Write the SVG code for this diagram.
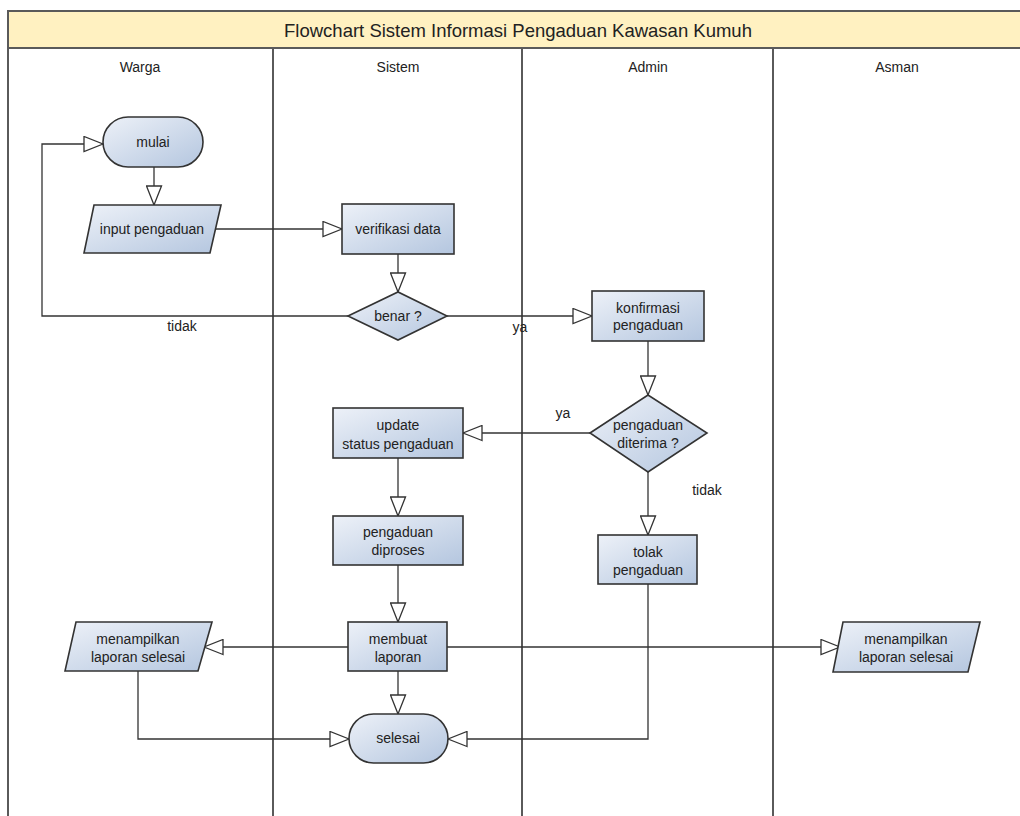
<svg xmlns="http://www.w3.org/2000/svg" width="1020" height="816" viewBox="0 0 1020 816">
  <defs>
    <linearGradient id="nodeFill" x1="0" y1="0" x2="1" y2="1">
      <stop offset="0" stop-color="#edf1f8"/>
      <stop offset="1" stop-color="#b4c6df"/>
    </linearGradient>
    <marker id="arrow" viewBox="0 0 21 17" refX="20" refY="8.5" markerWidth="21" markerHeight="17" markerUnits="userSpaceOnUse" orient="auto">
      <path d="M1,1 L20,8.5 L1,16 Z" fill="#ffffff" stroke="#333333" stroke-width="1.3"/>
    </marker>
  </defs>
  <style>
    .lane { fill: none; stroke: #5a5a5a; stroke-width: 2; }
    .node { fill: url(#nodeFill); stroke: #333333; stroke-width: 1.6; }
    .edge { fill: none; stroke: #333333; stroke-width: 1.3; marker-end: url(#arrow); }
    .plain { fill: none; stroke: #333333; stroke-width: 1.3; }
    text { font-family: "Liberation Sans", Arial, sans-serif; font-size: 14px; fill: #222222; text-anchor: middle; dominant-baseline: central; }
    .title { font-size: 18.5px; }
    .label { text-anchor: start; }
  </style>

  <rect width="1020" height="816" fill="#ffffff"/>

  <!-- pool with title band and four lanes -->
  <g id="pool">
    <rect x="8" y="11" width="1030" height="37" fill="#fff1c1"/>
    <rect x="8" y="11" width="1030" height="830" class="lane"/>
    <line x1="8" y1="48" x2="1020" y2="48" class="lane"/>
    <line x1="273" y1="48" x2="273" y2="816" class="lane"/>
    <line x1="522" y1="48" x2="522" y2="816" class="lane"/>
    <line x1="773" y1="48" x2="773" y2="816" class="lane"/>
    <text x="518" y="30" class="title">Flowchart Sistem Informasi Pengaduan Kawasan Kumuh</text>
    <text x="140" y="67">Warga</text>
    <text x="398" y="67">Sistem</text>
    <text x="648" y="67">Admin</text>
    <text x="897" y="67">Asman</text>
  </g>

  <!-- connectors -->
  <g id="connectors">
    <line x1="154" y1="167" x2="154" y2="205" class="edge"/>
    <line x1="216" y1="229" x2="342" y2="229" class="edge"/>
    <line x1="398" y1="254" x2="398" y2="292" class="edge"/>
    <polyline points="348,316 42,316 42,144 103,144" class="edge"/>
    <line x1="447" y1="316" x2="592" y2="316" class="edge"/>
    <line x1="648" y1="341" x2="648" y2="395" class="edge"/>
    <line x1="590" y1="433" x2="463" y2="433" class="edge"/>
    <line x1="648" y1="472" x2="648" y2="535" class="edge"/>
    <line x1="398" y1="458" x2="398" y2="516" class="edge"/>
    <line x1="398" y1="565" x2="398" y2="622" class="edge"/>
    <line x1="348" y1="647" x2="204" y2="647" class="edge"/>
    <line x1="447" y1="647" x2="840" y2="647" class="edge"/>
    <line x1="398" y1="671" x2="398" y2="714" class="edge"/>
    <polyline points="138,671 138,739 349,739" class="edge"/>
    <polyline points="648,584 648,739 448,739" class="edge"/>
    <text x="182" y="326">tidak</text>
    <text x="520" y="327">ya</text>
    <text x="563" y="413">ya</text>
    <text x="707" y="490">tidak</text>
  </g>

  <g id="mulai">
    <rect x="103" y="117" width="100" height="50" rx="25" class="node"/>
    <text x="153" y="142">mulai</text>
  </g>

  <g id="input-pengaduan">
    <polygon points="94,205 221,205 210,253 84,253" class="node"/>
    <text x="152" y="229">input pengaduan</text>
  </g>

  <g id="verifikasi-data">
    <rect x="342" y="204" width="112" height="50" class="node"/>
    <text x="398" y="229">verifikasi data</text>
  </g>

  <g id="benar">
    <polygon points="348,316 398,292 447,316 398,340" class="node"/>
    <text x="398" y="316">benar ?</text>
  </g>

  <g id="konfirmasi-pengaduan">
    <rect x="592" y="291" width="112" height="50" class="node"/>
    <text x="648" y="308">konfirmasi</text>
    <text x="648" y="325">pengaduan</text>
  </g>

  <g id="pengaduan-diterima">
    <polygon points="590,433 648,395 707,433 648,472" class="node"/>
    <text x="648" y="425">pengaduan</text>
    <text x="648" y="443">diterima ?</text>
  </g>

  <g id="update-status">
    <rect x="333" y="408" width="130" height="50" class="node"/>
    <text x="398" y="425">update</text>
    <text x="398" y="444">status pengaduan</text>
  </g>

  <g id="pengaduan-diproses">
    <rect x="333" y="516" width="130" height="49" class="node"/>
    <text x="398" y="532">pengaduan</text>
    <text x="398" y="550">diproses</text>
  </g>

  <g id="tolak-pengaduan">
    <rect x="598" y="535" width="99" height="49" class="node"/>
    <text x="648" y="552">tolak</text>
    <text x="648" y="570">pengaduan</text>
  </g>

  <g id="membuat-laporan">
    <rect x="348" y="622" width="99" height="49" class="node"/>
    <text x="398" y="639">membuat</text>
    <text x="398" y="657">laporan</text>
  </g>

  <g id="laporan-warga">
    <polygon points="76,622 212,622 198,671 65,671" class="node"/>
    <text x="138" y="639">menampilkan</text>
    <text x="138" y="657">laporan selesai</text>
  </g>

  <g id="laporan-asman">
    <polygon points="843,622 980,622 968,672 833,672" class="node"/>
    <text x="906" y="639">menampilkan</text>
    <text x="906" y="657">laporan selesai</text>
  </g>

  <g id="selesai">
    <rect x="349" y="714" width="99" height="49" rx="24.5" class="node"/>
    <text x="398" y="738">selesai</text>
  </g>
</svg>
